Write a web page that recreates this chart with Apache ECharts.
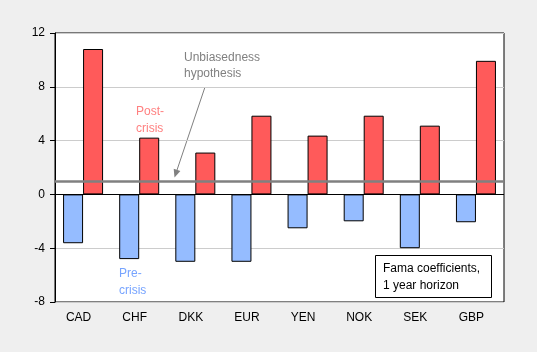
<!DOCTYPE html>
<html>
<head>
<meta charset="utf-8">
<script src="https://cdn.jsdelivr.net/npm/echarts@6/dist/echarts.min.js"></script>
<style>
html,body{margin:0;padding:0;background:#efefef;}
#chart{width:537px;height:352px;}
</style>
</head>
<body>
<div id="chart"></div>
<script>
var categories = ['CAD', 'CHF', 'DKK', 'EUR', 'YEN', 'NOK', 'SEK', 'GBP'];
var preCrisis = [-3.63, -4.81, -5.01, -5.01, -2.52, -2.0, -4.0, -2.07];
var postCrisis = [10.81, 4.22, 3.11, 5.85, 4.37, 5.85, 5.11, 9.93];
var unbiasedValue = 1;
var yTicks = [-8, -4, 0, 4, 8, 12];

var FONT = '"Liberation Sans", Arial, sans-serif';
var chart = echarts.init(document.getElementById('chart'));
chart.setOption({
  backgroundColor: '#efefef',
  animation: false,
  grid: {
    left: 55, top: 33, right: 33, bottom: 50,
    show: true, backgroundColor: '#ffffff', borderColor: '#000000', borderWidth: 1
  },
  xAxis: {
    type: 'category',
    data: categories,
    axisLine: { show: false },
    axisTick: { show: false },
    axisLabel: { color: '#000000', fontSize: 12, fontFamily: FONT, margin: 10, padding: [0, 9, 0, 0] }
  },
  yAxis: {
    type: 'value',
    min: yTicks[0], max: yTicks[yTicks.length - 1], interval: 4,
    axisLine: { show: true, lineStyle: { color: '#000000' } },
    axisTick: { show: true, length: 5, lineStyle: { color: '#000000' } },
    axisLabel: { color: '#000000', fontSize: 12, fontFamily: FONT, margin: 10 },
    splitLine: { show: true, lineStyle: { color: '#cccccc', width: 1 } }
  },
  series: [
    {
      name: 'Pre-crisis', type: 'bar', data: preCrisis,
      barWidth: 20, barGap: '0%',
      itemStyle: { color: '#95bcff', borderColor: '#000000', borderWidth: 1 },
      markLine: {
        silent: true, symbol: 'none', label: { show: false },
        data: [{ yAxis: 0, lineStyle: { color: '#000000', width: 1, type: 'solid' } }]
      }
    },
    {
      name: 'Post-crisis', type: 'bar', data: postCrisis,
      barWidth: 20, barGap: '0%',
      itemStyle: { color: '#ff5a5a', borderColor: '#000000', borderWidth: 1 },
      markLine: {
        silent: true, symbol: 'none', label: { show: false }, z: 10,
        data: [{ yAxis: unbiasedValue, lineStyle: { color: '#808080', width: 2.5, type: 'solid' } }]
      }
    }
  ],
  graphic: [
    { type: 'text', left: 184, top: 50, style: { text: 'Unbiasedness\nhypothesis', fill: '#808080', font: '12px ' + FONT, lineHeight: 16 } },
    { type: 'line', shape: { x1: 205, y1: 87, x2: 176.5, y2: 171.5 }, style: { stroke: '#808080', lineWidth: 1 } },
    { type: 'polygon', shape: { points: [[180.4, 171.0], [173.7, 168.8], [174.5, 177.5]] }, style: { fill: '#808080' } },
    { type: 'text', left: 136, top: 103, style: { text: 'Post-\ncrisis', fill: '#ff8080', font: '12px ' + FONT, lineHeight: 17 } },
    { type: 'text', left: 119, top: 265, style: { text: 'Pre-\ncrisis', fill: '#77a4ff', font: '12px ' + FONT, lineHeight: 17 } },
    { type: 'rect', shape: { x: 375.5, y: 255.5, width: 116, height: 42 }, style: { fill: '#ffffff', stroke: '#000000', lineWidth: 1 }, z: 20 },
    { type: 'text', left: 383, top: 260, z: 21, style: { text: 'Fama coefficients,\n1 year horizon', fill: '#000000', font: '12px ' + FONT, lineHeight: 17 } }
  ]
});
</script>
</body>
</html>
